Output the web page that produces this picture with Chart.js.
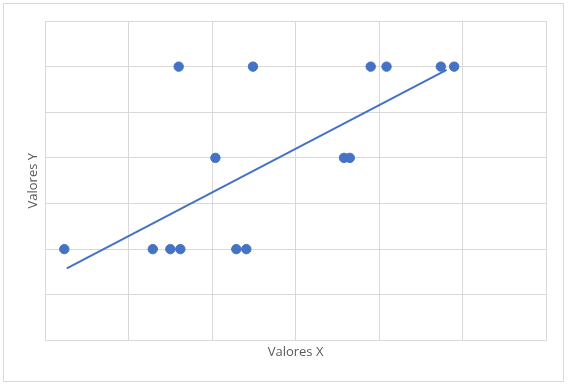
<!DOCTYPE html>
<html lang="es">
<head>
  <meta charset="UTF-8">
  <title>Valores X / Valores Y</title>
  <style>
    html, body { margin: 0; padding: 0; background: #fff; }
    #wrap { position: relative; width: 568px; height: 387px; }
    #marco { position: absolute; left: 3px; top: 3px; width: 559px; height: 377px; border: 1px solid #d9d9d9; pointer-events: none; }
  </style>
</head>
<body>
  <div id="wrap">
    <canvas id="grafico"></canvas>
    <div id="marco"></div>
  </div>

  <script src="https://cdn.jsdelivr.net/npm/chart.js"></script>
  <script>
    // puntos
    const valoresX = [0.23, 1.29, 1.50, 1.62, 2.29, 2.41, 1.60, 2.49, 2.04, 3.58, 3.65, 3.90, 4.09, 4.74, 4.90];
    const valoresY = [2, 2, 2, 2, 2, 2, 6, 6, 4, 4, 4, 6, 6, 6, 6];

    // linea de tendencia (extremos)
    const tendenciaX = [0.26, 4.81];
    const tendenciaY = [1.58, 5.93];

    const azul = '#4472C4';
    const gris = '#d9d9d9';

    const puntos = valoresX.map((x, i) => ({ x: x, y: valoresY[i] }));
    const tendencia = tendenciaX.map((x, i) => ({ x: x, y: tendenciaY[i] }));

    const lienzo = document.getElementById('grafico');

    new Chart(lienzo, {
      type: 'scatter',
      data: {
        datasets: [
          {
            label: 'Valores Y',
            data: puntos,
            backgroundColor: azul,
            borderColor: azul,
            pointRadius: 4.7,
            pointHoverRadius: 4.7,
            order: 1
          },
          {
            label: 'Tendencia',
            type: 'line',
            data: tendencia,
            borderColor: azul,
            borderWidth: 2,
            pointRadius: 0,
            fill: false,
            order: 2
          }
        ]
      },
      options: {
        responsive: true,
        maintainAspectRatio: false,
        animation: false,
        layout: {
          padding: { left: 21.5, right: 22, top: 21, bottom: 23 }
        },
        plugins: {
          legend: { display: false },
          tooltip: { enabled: false }
        },
        scales: {
          x: {
            type: 'linear',
            min: 0,
            max: 6,
            ticks: { display: false, stepSize: 1 },
            grid: { color: gris, drawTicks: false },
            border: { color: gris },
            title: {
              display: true,
              text: 'Valores X',
              color: '#595959',
              font: { family: 'Open Sans', size: 13 },
              padding: { top: 4, bottom: 4 }
            }
          },
          y: {
            type: 'linear',
            min: 0,
            max: 7,
            ticks: { display: false, stepSize: 1 },
            grid: { color: gris, drawTicks: false },
            border: { color: gris },
            title: {
              display: true,
              text: 'Valores Y',
              color: '#595959',
              font: { family: 'Open Sans', size: 13 },
              padding: { top: 4, bottom: 4 }
            }
          }
        }
      }
    });
  </script>
</body>
</html>
